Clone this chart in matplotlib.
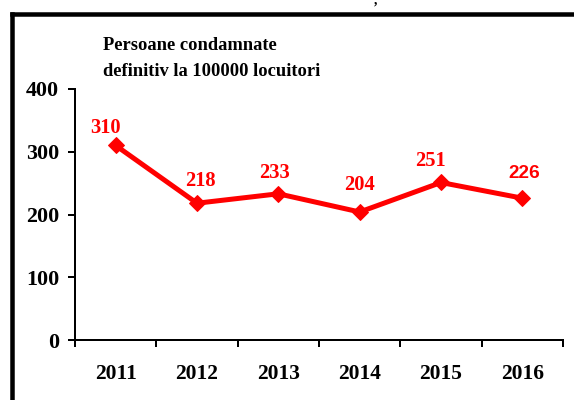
import matplotlib.pyplot as plt
from matplotlib.lines import Line2D

years = ['2011', '2012', '2013', '2014', '2015', '2016']
values = [310, 218, 233, 204, 251, 226]
yticks = [0, 100, 200, 300, 400]
title_lines = ['Persoane condamnate', 'definitiv la 100000 locuitori']

plt.rcParams['font.family'] = 'Liberation Serif'
plt.rcParams['font.weight'] = 'bold'

# dpi 72 so that sizes in points equal pixels
fig = plt.figure(figsize=(574 / 72, 400 / 72), dpi=72)
ax = fig.add_axes([75 / 574, 1 - 340 / 400, (563 - 75) / 574, (340 - 89) / 400])

x = list(range(len(years)))
ax.plot(x, values, color='#ff0000', lw=5, marker='D', ms=12, solid_joinstyle='miter')

# data labels (offsets in px)
offs = [(-10, 17), (3, 22), (-4, 21), (0, 27), (-11, 21), (2, 25)]
for i, (v, (dx, dy)) in enumerate(zip(values, offs)):
    fam = 'Liberation Sans' if i == len(values) - 1 else 'Liberation Serif'
    size = 19 if i == len(values) - 1 else 20.5
    ax.annotate(str(v), (i, v), xytext=(dx, dy), textcoords='offset points',
                ha='center', va='center', color='#ff0000', fontsize=size,
                fontweight='bold', family=fam)

ax.set_xlim(-0.5, len(years) - 0.5)
ax.set_ylim(0, 400)
ax.set_yticks(yticks)
ax.set_yticklabels([str(t) for t in yticks], fontsize=22, fontweight='bold')
ax.set_xticks(x)
ax.set_xticklabels(years, fontsize=21.5, fontweight='bold')
ax.set_xticks([i - 0.5 for i in range(len(years) + 1)], minor=True)
ax.tick_params(axis='x', which='major', length=0, pad=24)
ax.tick_params(axis='x', which='minor', length=7, width=2, direction='out')
ax.tick_params(axis='y', length=7, width=2, direction='out', pad=9)

for s in ['top', 'right']:
    ax.spines[s].set_visible(False)
for s in ['left', 'bottom']:
    ax.spines[s].set_linewidth(2)

fig.text(103 / 574, 1 - 45 / 400, title_lines[0], fontsize=18.5, fontweight='bold', va='center')
fig.text(103 / 574, 1 - 72 / 400, title_lines[1], fontsize=18.5, fontweight='bold', va='center')

# outer frame, running off the right and bottom edges
fig.add_artist(Line2D([12 / 574, 12 / 574], [-0.1, 1 - 13.5 / 400], color='black', lw=4.5,
                      transform=fig.transFigure, solid_capstyle='projecting'))
fig.add_artist(Line2D([12 / 574, 1.1], [1 - 13.5 / 400, 1 - 13.5 / 400], color='black', lw=4.5,
                      transform=fig.transFigure, solid_capstyle='projecting'))

# remnant of a caption cut off above the chart
fig.text(376 / 574, 1.0, ',', fontsize=14, fontweight='bold', ha='center', va='center')

fig.savefig('out.png', dpi=72)
